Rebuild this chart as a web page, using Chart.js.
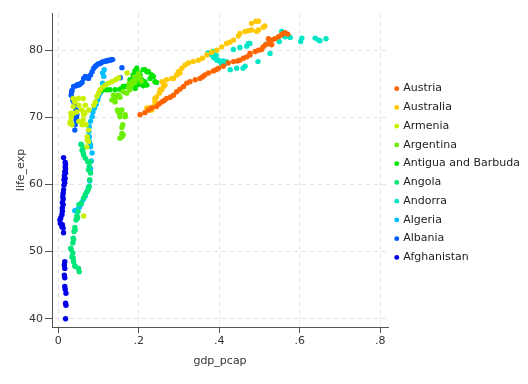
<!DOCTYPE html>
<html>
<head>
<meta charset="utf-8">
<script src="https://cdn.jsdelivr.net/npm/chart.js@4.4.0/dist/chart.umd.min.js"></script>
<style>
  html, body { margin: 0; padding: 0; background: #fff; }
  #wrap { width: 528px; height: 384px; }
</style>
</head>
<body>
<div id="wrap"><canvas id="chart" width="528" height="384"></canvas></div>
<script>
// legend order, top to bottom
const countries = ['Austria', 'Australia', 'Armenia', 'Argentina', 'Antigua and Barbuda',
                   'Angola', 'Andorra', 'Algeria', 'Albania', 'Afghanistan'];
const countryColors = ['#ff6400', '#ffc800', '#c8f000', '#6eee00', '#00e600',
                       '#00e678', '#00e6c8', '#00beff', '#005aff', '#0000e6'];

const xTickValues = [0, 0.2, 0.4, 0.6, 0.8];
const xTickLabels = ['0', '.2', '.4', '.6', '.8'];
const yTickValues = [40, 50, 60, 70, 80];
const yTickLabels = ['40', '50', '60', '70', '80'];

// gdp_pcap / life_exp per country
const austriaGdp = [0.203, 0.215, 0.224, 0.232, 0.244, 0.250, 0.257, 0.263, 0.269, 0.278, 0.286, 0.294, 0.302, 0.311, 0.319, 0.327, 0.340, 0.352, 0.358, 0.364, 0.373, 0.385, 0.392, 0.398, 0.410, 0.422, 0.435, 0.445, 0.451, 0.460, 0.468, 0.476, 0.476, 0.489, 0.497, 0.505, 0.509, 0.515, 0.522, 0.530, 0.522, 0.530, 0.538, 0.547, 0.555, 0.559, 0.563, 0.570];
const austriaLife = [70.4, 70.7, 71.1, 71.4, 71.6, 72.0, 72.3, 72.5, 72.8, 73.0, 73.3, 73.8, 74.2, 74.6, 75.1, 75.3, 75.6, 75.8, 76.0, 76.3, 76.6, 76.9, 77.1, 77.3, 77.6, 78.1, 78.3, 78.4, 78.5, 78.8, 79.0, 79.3, 79.5, 79.8, 80.0, 80.1, 80.5, 80.8, 81.0, 80.8, 81.7, 81.5, 81.7, 82.0, 82.3, 82.5, 82.6, 82.4];

const australiaGdp = [0.220, 0.224, 0.226, 0.232, 0.236, 0.240, 0.240, 0.244, 0.251, 0.253, 0.257, 0.261, 0.258, 0.265, 0.269, 0.282, 0.286, 0.294, 0.298, 0.302, 0.307, 0.315, 0.323, 0.335, 0.348, 0.358, 0.369, 0.381, 0.394, 0.406, 0.418, 0.426, 0.435, 0.447, 0.451, 0.464, 0.472, 0.480, 0.493, 0.497, 0.480, 0.491, 0.497, 0.509, 0.513];
const australiaLife = [71.4, 71.1, 71.4, 71.1, 71.6, 72.3, 72.8, 73.0, 73.6, 74.1, 74.1, 74.6, 75.3, 74.8, 75.6, 75.8, 75.8, 76.3, 76.8, 76.6, 77.3, 77.8, 78.1, 78.3, 78.5, 78.8, 79.3, 79.7, 80.0, 80.5, 81.0, 81.2, 81.5, 82.1, 82.5, 82.8, 82.9, 83.0, 82.8, 83.0, 84.0, 84.3, 84.3, 83.4, 83.6];

const armeniaGdp = [0.063, 0.071, 0.075, 0.072, 0.072, 0.075, 0.069, 0.062, 0.066, 0.058, 0.063, 0.059, 0.051, 0.030, 0.029, 0.034, 0.032, 0.031, 0.038, 0.046, 0.037, 0.041, 0.037, 0.050, 0.062, 0.063, 0.076, 0.051, 0.067, 0.088, 0.092, 0.096, 0.100, 0.104, 0.110, 0.117, 0.125, 0.133, 0.142, 0.150, 0.171];
const armeniaLife = [55.3, 65.6, 66.4, 66.6, 67.1, 68.1, 68.9, 69.6, 70.6, 71.1, 70.4, 68.9, 69.4, 69.4, 69.1, 68.9, 70.1, 70.6, 70.6, 70.8, 71.6, 72.3, 72.8, 72.8, 72.8, 70.8, 71.1, 71.8, 71.8, 71.8, 72.3, 73.1, 73.6, 74.1, 74.5, 74.8, 75.1, 75.3, 75.6, 75.9, 76.6];

const argentinaGdp = [0.153, 0.158, 0.161, 0.158, 0.160, 0.158, 0.153, 0.166, 0.166, 0.153, 0.149, 0.147, 0.158, 0.141, 0.133, 0.137, 0.141, 0.149, 0.153, 0.161, 0.170, 0.178, 0.175, 0.182, 0.184, 0.190, 0.195, 0.203, 0.199, 0.190, 0.206, 0.176];
const argentinaLife = [66.9, 67.1, 67.4, 67.6, 68.9, 68.5, 70.1, 70.1, 70.4, 70.6, 70.8, 71.1, 71.1, 72.3, 72.6, 73.3, 72.8, 73.3, 73.0, 73.8, 73.6, 74.1, 74.4, 74.8, 75.4, 75.2, 75.8, 76.0, 76.5, 76.0, 75.4, 75.0];

const antiguaGdp = [0.108, 0.112, 0.120, 0.128, 0.141, 0.153, 0.161, 0.166, 0.178, 0.178, 0.186, 0.186, 0.186, 0.191, 0.195, 0.199, 0.203, 0.207, 0.211, 0.215, 0.211, 0.215, 0.220, 0.220, 0.224, 0.232, 0.236, 0.240, 0.244, 0.190, 0.200, 0.228, 0.195];
const antiguaLife = [74.0, 74.1, 74.1, 74.1, 74.1, 74.2, 74.6, 74.6, 75.1, 75.6, 74.8, 75.8, 76.3, 74.3, 75.6, 74.9, 76.3, 75.6, 77.1, 77.1, 74.7, 75.3, 76.8, 74.8, 76.8, 76.3, 76.1, 75.3, 75.2, 76.9, 76.6, 75.8, 77.3];

const angolaGdp = [0.052, 0.050, 0.042, 0.041, 0.038, 0.037, 0.034, 0.036, 0.031, 0.032, 0.036, 0.038, 0.037, 0.039, 0.042, 0.041, 0.044, 0.047, 0.048, 0.046, 0.049, 0.051, 0.057, 0.063, 0.067, 0.071, 0.074, 0.077, 0.078, 0.080, 0.077, 0.075, 0.079, 0.073, 0.067, 0.063, 0.062, 0.059, 0.062, 0.058, 0.056];
const angolaLife = [47.0, 47.5, 47.8, 47.9, 48.5, 49.0, 49.2, 49.8, 50.5, 50.3, 51.3, 51.8, 52.0, 53.0, 53.2, 53.6, 54.7, 55.2, 55.0, 55.3, 56.0, 57.0, 57.2, 58.0, 58.5, 58.9, 59.2, 59.7, 60.7, 61.7, 62.7, 62.2, 63.4, 63.4, 63.9, 64.4, 64.7, 65.1, 65.4, 65.9, 66.0];

const andorraGdp = [0.372, 0.377, 0.385, 0.382, 0.392, 0.385, 0.389, 0.394, 0.398, 0.402, 0.405, 0.410, 0.415, 0.418, 0.427, 0.443, 0.459, 0.464, 0.435, 0.451, 0.468, 0.472, 0.476, 0.496, 0.516, 0.526, 0.549, 0.555, 0.559, 0.563, 0.571, 0.576, 0.602, 0.605, 0.638, 0.646, 0.650, 0.665];
const andorraLife = [79.6, 79.5, 79.8, 79.3, 79.2, 79.0, 78.8, 78.5, 78.5, 78.3, 78.0, 78.4, 78.0, 78.3, 77.1, 77.3, 77.3, 77.6, 80.1, 80.4, 80.6, 81.0, 81.0, 78.3, 80.9, 79.5, 81.3, 82.8, 82.3, 82.0, 82.1, 81.9, 81.3, 81.8, 81.8, 81.5, 81.4, 81.7];

const algeriaGdp = [0.041, 0.046, 0.052, 0.056, 0.058, 0.062, 0.067, 0.071, 0.075, 0.078, 0.079, 0.080, 0.082, 0.084, 0.080, 0.080, 0.077, 0.077, 0.076, 0.077, 0.080, 0.084, 0.086, 0.090, 0.094, 0.098, 0.100, 0.104, 0.109, 0.110, 0.113, 0.110, 0.114];
const algeriaLife = [56.1, 56.2, 56.6, 57.0, 57.3, 57.8, 58.3, 58.9, 59.6, 60.5, 62.0, 62.4, 63.5, 64.7, 65.6, 65.9, 66.4, 67.1, 67.9, 68.6, 69.4, 70.1, 70.8, 71.4, 71.9, 72.6, 73.1, 73.6, 74.3, 75.1, 76.1, 76.6, 77.1];

const albaniaGdp = [0.041, 0.042, 0.044, 0.045, 0.046, 0.043, 0.044, 0.041, 0.039, 0.036, 0.032, 0.033, 0.034, 0.038, 0.044, 0.048, 0.051, 0.055, 0.059, 0.063, 0.067, 0.071, 0.075, 0.080, 0.084, 0.088, 0.092, 0.096, 0.100, 0.104, 0.108, 0.113, 0.117, 0.121, 0.125, 0.129, 0.132, 0.135, 0.158, 0.154];
const albaniaLife = [68.1, 68.9, 69.6, 70.0, 70.4, 70.8, 71.1, 71.8, 72.2, 72.6, 73.3, 73.8, 74.0, 74.6, 74.7, 74.9, 74.8, 75.0, 75.2, 75.8, 76.1, 76.0, 75.8, 76.3, 76.8, 77.3, 77.6, 77.8, 78.0, 78.0, 78.2, 78.3, 78.4, 78.4, 78.5, 78.5, 78.6, 78.6, 77.4, 75.9];

const afghanistanGdp = [0.018, 0.019, 0.018, 0.019, 0.017, 0.016, 0.016, 0.015, 0.016, 0.015, 0.016, 0.013, 0.009, 0.012, 0.010, 0.005, 0.004, 0.006, 0.009, 0.010, 0.010, 0.012, 0.010, 0.012, 0.011, 0.012, 0.013, 0.014, 0.016, 0.014, 0.017, 0.015, 0.018, 0.016, 0.018, 0.017, 0.018, 0.017, 0.013];
const afghanistanLife = [40.0, 42.0, 42.3, 43.8, 44.4, 44.8, 46.1, 46.5, 47.5, 48.0, 48.5, 52.8, 53.7, 53.5, 54.0, 54.2, 54.7, 55.0, 55.5, 56.0, 56.5, 57.0, 57.3, 57.8, 58.2, 58.7, 59.2, 59.9, 60.3, 60.7, 60.9, 61.3, 61.7, 61.9, 62.3, 62.6, 63.0, 63.3, 64.0];

const gdpSeries = [austriaGdp, australiaGdp, armeniaGdp, argentinaGdp, antiguaGdp,
                   angolaGdp, andorraGdp, algeriaGdp, albaniaGdp, afghanistanGdp];
const lifeSeries = [austriaLife, australiaLife, armeniaLife, argentinaLife, antiguaLife,
                    angolaLife, andorraLife, algeriaLife, albaniaLife, afghanistanLife];

const font = { family: 'DejaVu Sans', size: 11 };
const textColor = '#333';
const axisColor = '#555';
const gridColor = '#e6e6e6';

Chart.defaults.font.family = 'DejaVu Sans';

const datasets = countries.map((name, i) => ({
    label: name,
    data: gdpSeries[i].map((x, j) => ({ x, y: lifeSeries[i][j] })),
    backgroundColor: countryColors[i],
    borderColor: countryColors[i],
    borderWidth: 0,
    pointRadius: 2.7,
    pointHoverRadius: 2.7,
    pointStyle: 'circle'
}));

new Chart(document.getElementById('chart'), {
    type: 'scatter',
    data: { datasets },
    options: {
        responsive: false,
        animation: false,
        devicePixelRatio: 1,
        layout: { padding: { top: 13, left: 0, right: 0, bottom: 0 } },
        plugins: {
            tooltip: { enabled: false },
            legend: {
                position: 'right',
                align: 'center',
                fullSize: false,
                maxWidth: 140,
                // empty title only nudges the items down a little
                title: { display: true, text: '', font: { size: 6, lineHeight: 1 }, padding: 0 },
                labels: {
                    usePointStyle: true,
                    pointStyle: 'circle',
                    boxWidth: 2,
                    boxHeight: 3.5,
                    padding: 7.75,
                    font,
                    color: '#222'
                }
            }
        },
        scales: {
            x: {
                type: 'linear',
                min: -0.0157,
                max: 0.819,
                afterBuildTicks: s => { s.ticks = xTickValues.map(v => ({ value: v })); },
                afterFit: s => { s.height = 57; },
                ticks: {
                    callback: (v, i) => xTickLabels[i],
                    font, color: textColor, padding: 2,
                    maxRotation: 0, autoSkip: false
                },
                grid: { color: gridColor, lineWidth: 1, tickColor: axisColor, tickLength: 6, tickWidth: 1 },
                border: { color: axisColor, width: 1, dash: [5, 3] },
                title: { display: true, text: 'gdp_pcap', font, color: textColor, padding: { top: 0, bottom: 16.7 } }
            },
            y: {
                type: 'linear',
                min: 38.77,
                max: 85.54,
                afterBuildTicks: s => { s.ticks = yTickValues.map(v => ({ value: v })); },
                afterFit: s => { s.width = 52; },
                ticks: {
                    callback: (v, i) => yTickLabels[i],
                    font, color: textColor, padding: 2
                },
                grid: { color: gridColor, lineWidth: 1, tickColor: axisColor, tickLength: 7, tickWidth: 1 },
                border: { color: axisColor, width: 1, dash: [5, 3] },
                title: { display: true, text: 'life_exp', font, color: textColor, padding: { top: 14.5, bottom: 0 } }
            }
        }
    }
});
</script>
</body>
</html>
